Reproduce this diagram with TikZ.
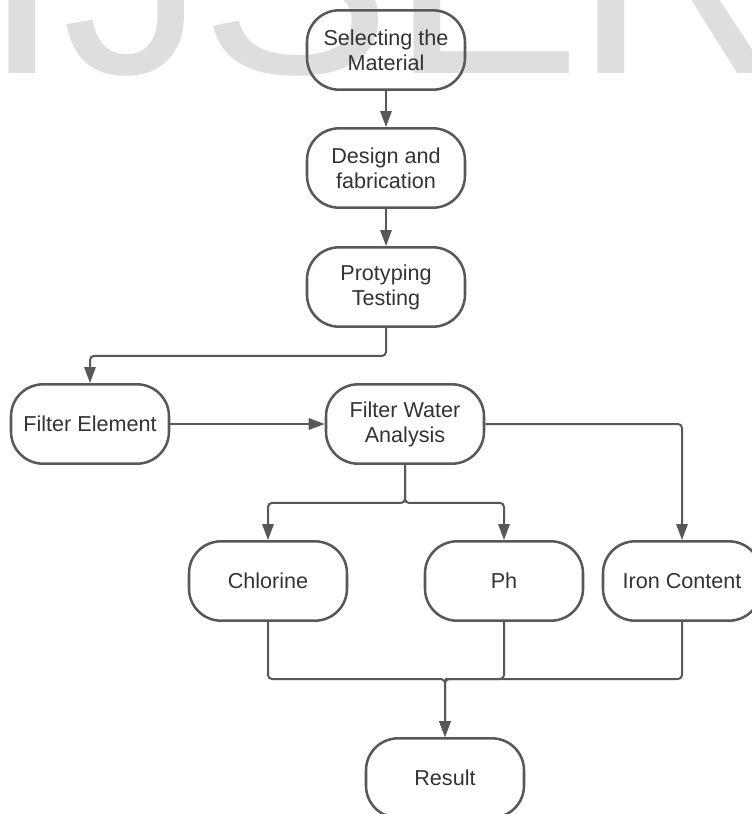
\documentclass[tikz,border=0pt]{standalone}
\usepackage{fontspec}
\setmainfont{Liberation Sans}
\usetikzlibrary{arrows.meta}
\definecolor{linegray}{RGB}{88,88,88}
\definecolor{textgray}{RGB}{51,51,51}
\definecolor{markgray}{RGB}{222,222,222}
\tikzset{
  stage/.style={draw=linegray, line width=1.9pt, rounded corners=24pt,
    minimum width=118.5pt, minimum height=59.5pt, inner sep=0pt,
    align=center, text=textgray, font=\fontsize{16.2}{18.75}\selectfont},
  link/.style={draw=linegray, line width=1.5pt, rounded corners=3pt},
  flow/.style={link, -{Triangle[length=12pt,width=8.5pt]}}
}
\begin{document}
\begin{tikzpicture}[x=0.75pt, y=-0.75pt]
  \useasboundingbox (0,0) rectangle (751,814);
  % watermark letters, top cut off
  \foreach \ch/\xo in {I/-17, J/62, S/200, E/390, R/574}
    \node[anchor=base west, inner sep=0pt, outer sep=0pt, text=markgray,
      font=\fontsize{215}{215}\selectfont] (wm\ch) at (\xo,73) {\ch};

  % stages
  \node[stage] (sel) at (386,50) {Selecting the\\Material};
  \node[stage] (des) at (386,168) {Design and\\fabrication};
  \node[stage] (pro) at (386,287) {Protyping\\Testing};
  \node[stage] (fel) at (90,424) {Filter Element};
  \node[stage] (fwa) at (405,424) {Filter Water\\Analysis};
  \node[stage] (chl) at (268,581) {Chlorine};
  \node[stage] (ph) at (504,581) {Ph};
  \node[stage] (iron) at (682,581) {Iron Content};
  \node[stage] (res) at (445,778) {Result};

  % connectors
  \draw[flow] (sel) -- (des);
  \draw[flow] (des) -- (pro);
  \draw[flow] (pro.south) -- ++(0,28) -| (fel.north);
  \draw[flow] (fel) -- (fwa);
  \draw[flow] (fwa.south) -- ++(0,38) -| (chl.north);
  \draw[flow] (fwa.south) -- ++(0,38) -| (ph.north);
  \draw[flow] (fwa.east) -| (iron.north);
  \coordinate (merge) at (445,679);
  \draw[link] (ph.south) |- (merge);
  \draw[flow] (chl.south) |- (merge) -- (res.north);
  \draw[flow] (iron.south) |- (merge) -- (res.north);
\end{tikzpicture}
\end{document}
